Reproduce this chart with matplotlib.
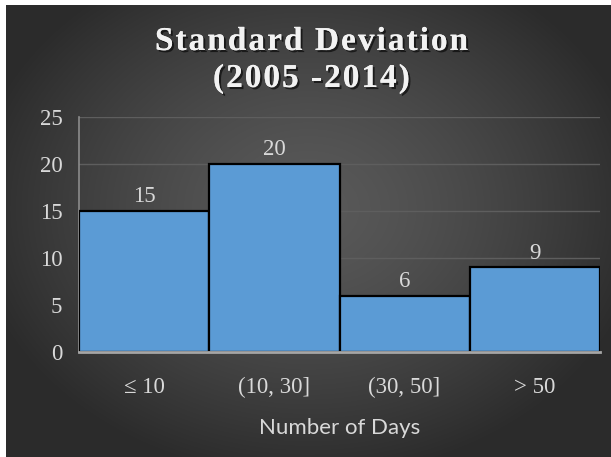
import matplotlib
matplotlib.use("Agg")
import matplotlib.pyplot as plt
import matplotlib.patheffects as pe
import numpy as np

categories = ["\u2264 10", "(10, 30]", "(30, 50]", "> 50"]
values = [15, 20, 6, 9]
yticks = [0, 5, 10, 15, 20, 25]
title_lines = ["Standard Deviation", "(2005 -2014)"]
xlabel = "Number of Days"

W, H = 611, 457
fig = plt.figure(figsize=(W / 100, H / 100), dpi=100)
fig.patch.set_facecolor("white")

# dark background with radial gradient (white margin left/top)
bg = fig.add_axes([6 / W, 0, 1 - 6 / W, 1 - 5 / H])
bg.set_axis_off()
yy, xx = np.mgrid[0:1:300j, 0:1:400j]
r = np.sqrt(((xx - 0.5) / 0.75) ** 2 + ((yy - 0.45) / 0.8) ** 2)
val = 0.35 - 0.18 * np.clip(r / 0.75, 0, 1) ** 1.4
img = np.dstack([val, val, val])
bg.imshow(img, aspect="auto", extent=[0, 1, 0, 1], interpolation="bilinear")
bg.set_xlim(0, 1)
bg.set_ylim(0, 1)

serif = "Liberation Serif"
txtc = "#d9d9d9"
fs = 16.5

left, right = 79 / W, 600 / W
bottom, top = 1 - 352 / H, 1 - 117 / H
ax = fig.add_axes([left, bottom, right - left, top - bottom])
ax.patch.set_alpha(0)

x = np.arange(len(categories))
ax.bar(x, values, width=1.0, color="#5B9BD5", edgecolor="black", linewidth=1.6, zorder=3)
ax.set_xlim(-0.5, len(categories) - 0.5)
ax.set_ylim(0, 25)
ax.set_yticks(yticks)
ax.yaxis.grid(True, color="#5e5e5e", linewidth=1, zorder=0)
ax.set_axisbelow(True)
ax.set_yticklabels([str(t) for t in yticks], fontfamily=serif, fontsize=fs, color=txtc)
ax.set_xticks(x)
ax.set_xticklabels(categories, fontfamily=serif, fontsize=fs, color=txtc)
ax.tick_params(axis="both", length=0)
ax.tick_params(axis="y", pad=12)
ax.tick_params(axis="x", pad=18)
ax.set_xlabel(xlabel, fontfamily="Lato", fontsize=16, color=txtc, labelpad=14)

for s in ["top", "right"]:
    ax.spines[s].set_visible(False)
ax.spines["left"].set_color("#8c8c8c")
ax.spines["left"].set_linewidth(1.2)
ax.spines["bottom"].set_color("#a6a6a6")
ax.spines["bottom"].set_linewidth(2)
ax.spines["bottom"].set_zorder(4)

for xi, v in zip(x, values):
    ax.text(xi, v + 0.4, str(v), ha="center", va="bottom", fontfamily=serif,
            fontsize=fs, color=txtc, zorder=5)

# title with letter spacing
renderer = fig.canvas.get_renderer()
tprops = dict(fontfamily=serif, fontweight="bold", fontsize=24)
def textw(s):
    t = fig.text(0, 0, s, **tprops)
    w = t.get_window_extent(renderer).width
    t.remove()
    return w

spacing = 2.0
cx = 311.5
baselines = [H - 50, H - 87]
for line, by in zip(title_lines, baselines):
    xw = textw("x")
    widths = [textw(line[:i] + "x") - xw for i in range(len(line) + 1)]
    total = textw(line) + spacing * (len(line) - 1)
    x0 = cx - total / 2
    for i, ch in enumerate(line):
        if ch == " ":
            continue
        px = x0 + widths[i] + spacing * i
        fig.text(px / W, by / H, ch, ha="left", va="baseline", color="#f2f2f2",
                 path_effects=[pe.withSimplePatchShadow(offset=(1.5, -1.5), shadow_rgbFace="black", alpha=0.6), pe.Normal()],
                 **tprops)

fig.savefig("out.png", dpi=100, facecolor=fig.get_facecolor())
